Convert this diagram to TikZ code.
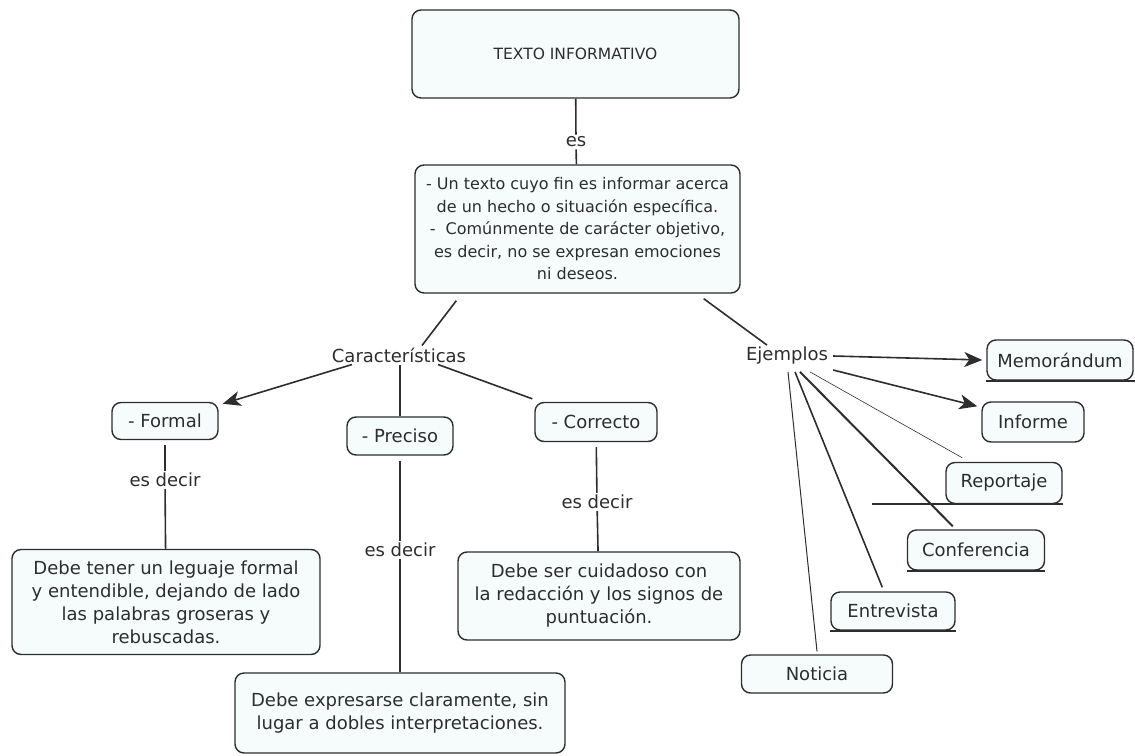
\documentclass[tikz,border=0pt]{standalone}
\usepackage{fontspec}
\setmainfont{DejaVu Sans}
\usetikzlibrary{arrows.meta,positioning}
\definecolor{boxfill}{RGB}{246,252,252}
\definecolor{inkgray}{RGB}{45,45,45}
\tikzset{
    %Define style for boxes
    concept/.style={
           rectangle,
           rounded corners=9pt,
           draw=inkgray, line width=1.4pt,
           fill=boxfill,
           text=inkgray,
           font=\fontsize{18}{23}\selectfont,
           align=center,
           inner sep=0pt,
           },
    phrase/.style={
           text=inkgray,
           font=\fontsize{18}{23}\selectfont,
           inner sep=2pt,
           },
    % Define connector styles
    link/.style={
           draw=inkgray,
           line width=1.6pt,},
    pil/.style={
           link,
           -{Stealth[length=18pt,width=15pt,inset=5pt]},},
    thinlink/.style={
           draw=inkgray,
           line width=0.6pt,},
    under/.style={
           draw=inkgray,
           line width=2pt,}
}
\begin{document}
\begin{tikzpicture}[x=1pt,y=-1pt]
\useasboundingbox (0,0) rectangle (1135,755);

 %nodes
\node[concept, minimum width=327pt, minimum height=88pt,
      font=\fontsize{15.5}{18}\selectfont](top) at (575.5,54){TEXTO INFORMATIVO};
\node[phrase](es) at (576,142){es};
\node[concept, minimum width=325pt, minimum height=128pt,
      font=\fontsize{16}{22.5}\selectfont](main) at (577.5,229)
  {- Un texto cuyo fin es informar acerca\\
   de un hecho o situación específica.\\
   -~~Comúnmente de carácter objetivo,\\
   es decir, no se expresan emociones\\
   ni deseos.};
\node[phrase](car) at (399,355){Características};
\node[phrase](ejm) at (787,356){Ejemplos};

\node[concept, minimum width=106pt, minimum height=37pt](formal) at (165,421){- Formal};
\node[concept, minimum width=106pt, minimum height=38pt](prec) at (400,436){- Preciso};
\node[concept, minimum width=122pt, minimum height=39pt](corr) at (596,422){- Correcto};

\node[phrase](esd1) at (165,480){es decir};
\node[phrase](esd2) at (400,550){es decir};
\node[phrase](esd3) at (597,502){es decir};

\node[concept, minimum width=308pt, minimum height=105pt](fdesc) at (166,602)
  {Debe tener un leguaje formal\\
   y entendible, dejando de lado\\
   las palabras groseras y\\
   rebuscadas.};
\node[concept, minimum width=330pt, minimum height=80pt](pdesc) at (400,713)
  {Debe expresarse claramente, sin\\
   lugar a dobles interpretaciones.};
\node[concept, minimum width=282pt, minimum height=88pt](cdesc) at (599,596)
  {Debe ser cuidadoso con\\
   la redacción y los signos de\\
   puntuación.};

\node[concept, minimum width=146pt, minimum height=40pt](memo) at (1060,360){Memorándum};
\node[concept, minimum width=102pt, minimum height=40pt](inf) at (1033,422){Informe};
\node[concept, minimum width=116pt, minimum height=41pt](rep) at (1004,483){Reportaje};
\node[concept, minimum width=137pt, minimum height=40pt](conf) at (976,550){Conferencia};
\node[concept, minimum width=124pt, minimum height=38pt](entr) at (893,611){Entrevista};
\node[concept, minimum width=151pt, minimum height=38pt](noti) at (817,674){Noticia};

 %connectors
\draw[link] (top) -- (es);
\draw[link] (es) -- (main);
\draw[link] ([shift={(42,7)}]main.south west) -- ([xshift=23pt]car.north);
\draw[link] ([shift={(-37,5)}]main.south east) -- ([xshift=-20pt]ejm.north);

\draw[pil] ([xshift=-47pt]car.south) -- ([shift={(4,2)}]formal.north east);
\draw[link] ([xshift=1pt]car.south) -- (prec.north);
\draw[link] ([xshift=39pt]car.south) -- ([shift={(-2,-3)}]corr.north west);

\draw[link,shorten <=5pt] (formal) -- (esd1);
\draw[link] (esd1) -- (fdesc);
\draw[link,shorten <=5pt] (prec) -- (esd2);
\draw[link] (esd2) -- (pdesc);
\draw[link,shorten <=5pt] (corr) -- (esd3);
\draw[link] (esd3) -- (cdesc);

\draw[pil] ([xshift=3pt]ejm.east) -- ([xshift=-4pt]memo.west);
\draw[pil] ([shift={(3,14)}]ejm.east) -- ([shift={(-4,5)}]inf.north west);
\draw[thinlink] ([shift={(23,5)}]ejm.south) -- ([shift={(17,-4)}]rep.north west);
\draw[link,line width=2pt] ([shift={(13,5)}]ejm.south) -- ([shift={(46,-3)}]conf.north west);
\draw[link] ([shift={(8,5)}]ejm.south) -- ([shift={(52,-4)}]entr.north west);
\draw[link,line width=1pt] ([shift={(1,5)}]ejm.south) -- ([yshift=3pt]noti.north);

 %underlines
\draw[under] (memo.south west) -- ([xshift=2pt]memo.south east);
\draw[under] ([xshift=-73pt]rep.south west) -- (rep.south east);
\draw[under] (conf.south west) -- (conf.south east);
\draw[under] (entr.south west) -- (entr.south east);

\end{tikzpicture}
\end{document}
